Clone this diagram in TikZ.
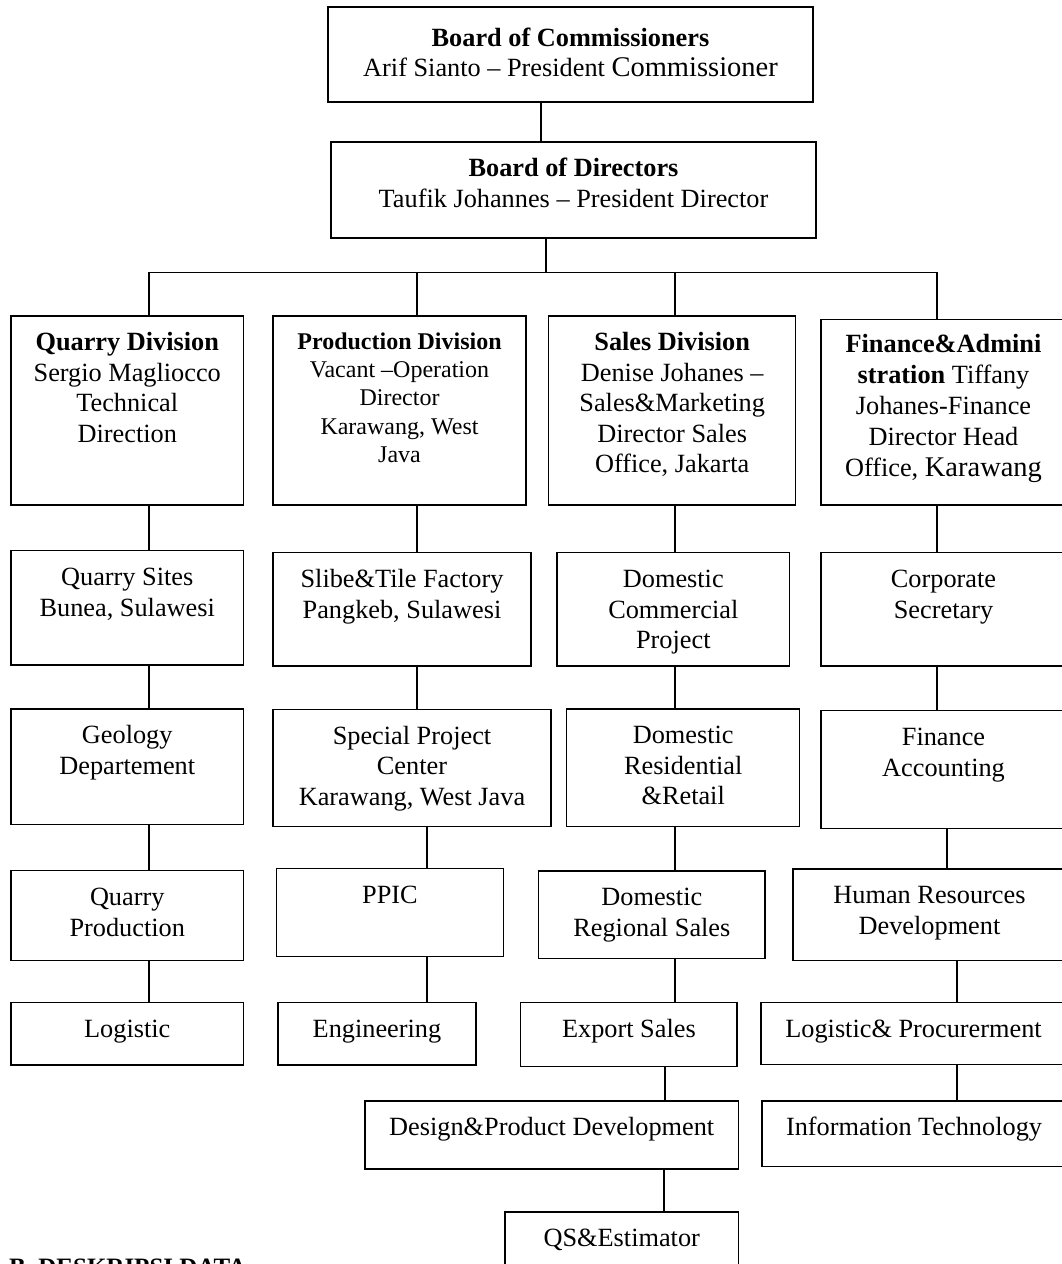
\documentclass[tikz,border=0pt]{standalone}
\usepackage{fontspec}
\setmainfont{Liberation Serif}
\usetikzlibrary{calc}
\tikzset{
  box/.style={draw=black, line width=1.3pt, inner sep=0pt, outer sep=0pt, anchor=north west},
  txt/.style={align=center, inner sep=0pt, outer sep=0pt, anchor=north, font=\fontsize{26.3}{30.5}\selectfont, yshift=-13.5pt},
  smalltxt/.style={txt, font=\fontsize{24}{28.3}\selectfont},
  conn/.style={line width=1.3pt, line cap=rect},
}
\newcommand\orgbox[5]{\node[box, minimum width={#4-#2}, minimum height={#5-#3}] (#1) at (#2,#3) {};}
\newcommand\bigword[1]{{\fontsize{28.5}{30.5}\selectfont #1}}
\begin{document}
\begin{tikzpicture}[x=1pt,y=-1pt]
\useasboundingbox (0,0) rectangle (1062,1264);
\fill[white] (0,0) rectangle (1062,1264);
\begin{scope}
\clip (0,0) rectangle (1062,1264);
% boxes
\orgbox{boc}{328}{7}{813}{102}
\orgbox{bod}{331}{142}{816}{238}
\orgbox{qd}{11}{316}{243.5}{505}
\orgbox{pd}{273}{316}{526}{505}
\orgbox{sd}{548.7}{316}{795.7}{505}
\orgbox{fa}{821}{319.3}{1066}{505}
\orgbox{qs}{11}{550.7}{243.5}{665}
\orgbox{sl}{273}{552.7}{531}{666}
\orgbox{dc}{557}{552.7}{789.6}{666}
\orgbox{cs}{821}{552.7}{1066}{666}
\orgbox{ge}{11}{709}{243.5}{824.5}
\orgbox{sp}{273}{709.3}{551}{826.7}
\orgbox{dr}{566.6}{709}{799.8}{826.7}
\orgbox{fi}{821}{710.7}{1066}{828.3}
\orgbox{qp}{11}{870.7}{243.5}{960.7}
\orgbox{pp}{276.5}{868.3}{503.4}{956.7}
\orgbox{rs}{538.7}{871}{765}{958.7}
\orgbox{hr}{793}{869}{1066}{960.7}
\orgbox{lo}{11}{1002.7}{243.5}{1065}
\orgbox{en}{278}{1002.7}{476}{1065}
\orgbox{ex}{520.8}{1002.7}{737}{1066.7}
\orgbox{lp}{761}{1002.7}{1066}{1064.3}
\orgbox{de}{365}{1101}{738.5}{1169}
\orgbox{it}{762}{1101}{1066}{1166.7}
\orgbox{qe}{505}{1212}{738.5}{1290}
% texts
\node[txt, yshift=-4.5pt] (boc-t) at (boc.north) {\strut\textbf{Board of Commissioners}\\Arif Sianto – President \bigword{Commissioner}};
\node[txt] (bod-t) at (bod.north) {\strut\textbf{Board of Directors}\\Taufik Johannes – President Director};
\node[txt] (qd-t) at (qd.north) {\strut\textbf{Quarry Division}\\Sergio Magliocco\\Technical\\Direction};
\node[smalltxt] (pd-t) at (pd.north) {\strut\textbf{Production Division}\\Vacant –Operation\\Director\\Karawang, West\\Java};
\node[txt] (sd-t) at (sd.north) {\strut\textbf{Sales Division}\\Denise Johanes –\\Sales\&Marketing\\Director Sales\\Office, Jakarta};
\node[txt, yshift=2.5pt, font=\fontsize{26.3}{31.2}\selectfont] (fa-t) at (fa.north) {\strut\textbf{Finance\&Admini}\\\textbf{stration} Tiffany\\Johanes-Finance\\Director Head\\Office, \bigword{Karawang}};
\node[txt] (qs-t) at (qs.north) {\strut Quarry Sites\\Bunea, Sulawesi};
\node[txt] (sl-t) at (sl.north) {\strut Slibe\&Tile Factory\\Pangkeb, Sulawesi};
\node[txt] (dc-t) at (dc.north) {\strut Domestic\\Commercial\\Project};
\node[txt] (cs-t) at (cs.north) {\strut Corporate\\Secretary};
\node[txt] (ge-t) at (ge.north) {\strut Geology\\Departement};
\node[txt] (sp-t) at (sp.north) {\strut Special Project\\Center\\Karawang, West Java};
\node[txt] (dr-t) at (dr.north) {\strut Domestic\\Residential\\\&Retail};
\node[txt] (fi-t) at (fi.north) {\strut Finance\\Accounting};
\node[txt] (qp-t) at (qp.north) {\strut Quarry\\Production};
\node[txt] (pp-t) at (pp.north) {\strut PPIC};
\node[txt] (rs-t) at (rs.north) {\strut Domestic\\Regional Sales};
\node[txt] (hr-t) at (hr.north) {\strut Human Resources\\Development};
\node[txt] (lo-t) at (lo.north) {\strut Logistic};
\node[txt] (en-t) at (en.north) {\strut Engineering};
\node[txt] (ex-t) at (ex.north) {\strut Export Sales};
\node[txt] (lp-t) at (lp.north) {\strut Logistic\& Procurerment};
\node[txt] (de-t) at (de.north) {\strut Design\&Product Development};
\node[txt] (it-t) at (it.north) {\strut Information Technology};
\node[txt] (qe-t) at (qe.north) {\strut QS\&Estimator};
\node[anchor=base west, inner sep=0pt, font=\fontsize{25}{30}\selectfont\bfseries] (sec) at (9,1275) {B. DESKRIPSI DATA};
% connector columns
\coordinate (xa) at (541,0);
\coordinate (xb) at (546,0);
\coordinate (bus) at (0,272.7);
\coordinate (xq) at (149,0);
\coordinate (xp) at (417,0);
\coordinate (xpp) at (427,0);
\coordinate (xs) at (675,0);
\coordinate (xse) at (665,0);
\coordinate (xsd) at (664,0);
\coordinate (xf) at (937,0);
\coordinate (xfh) at (947,0);
\coordinate (xfl) at (957,0);
% top
\draw[conn] (boc.south -| xa) -- (bod.north -| xa);
\draw[conn] (bod.south -| xb) -- (bus -| xb);
\draw[conn] (bus -| xq) -- (bus -| xf);
\draw[conn] (bus -| xq) -- (qd.north -| xq);
\draw[conn] (bus -| xp) -- (pd.north -| xp);
\draw[conn] (bus -| xs) -- (sd.north -| xs);
\draw[conn] (bus -| xf) -- (fa.north -| xf);
% quarry column
\draw[conn] (qd.south -| xq) -- (qs.north -| xq);
\draw[conn] (qs.south -| xq) -- (ge.north -| xq);
\draw[conn] (ge.south -| xq) -- (qp.north -| xq);
\draw[conn] (qp.south -| xq) -- (lo.north -| xq);
% production column
\draw[conn] (pd.south -| xp) -- (sl.north -| xp);
\draw[conn] (sl.south -| xp) -- (sp.north -| xp);
\draw[conn] (sp.south -| xpp) -- (pp.north -| xpp);
\draw[conn] (pp.south -| xpp) -- (en.north -| xpp);
% sales column
\draw[conn] (sd.south -| xs) -- (dc.north -| xs);
\draw[conn] (dc.south -| xs) -- (dr.north -| xs);
\draw[conn] (dr.south -| xs) -- (rs.north -| xs);
\draw[conn] (rs.south -| xs) -- (ex.north -| xs);
\draw[conn] (ex.south -| xse) -- (de.north -| xse);
\draw[conn] (de.south -| xsd) -- (qe.north -| xsd);
% finance column
\draw[conn] (fa.south -| xf) -- (cs.north -| xf);
\draw[conn] (cs.south -| xf) -- (fi.north -| xf);
\draw[conn] (fi.south -| xfh) -- (hr.north -| xfh);
\draw[conn] (hr.south -| xfl) -- (lp.north -| xfl);
\draw[conn] (lp.south -| xfl) -- (it.north -| xfl);
\end{scope}
\end{tikzpicture}
\end{document}
